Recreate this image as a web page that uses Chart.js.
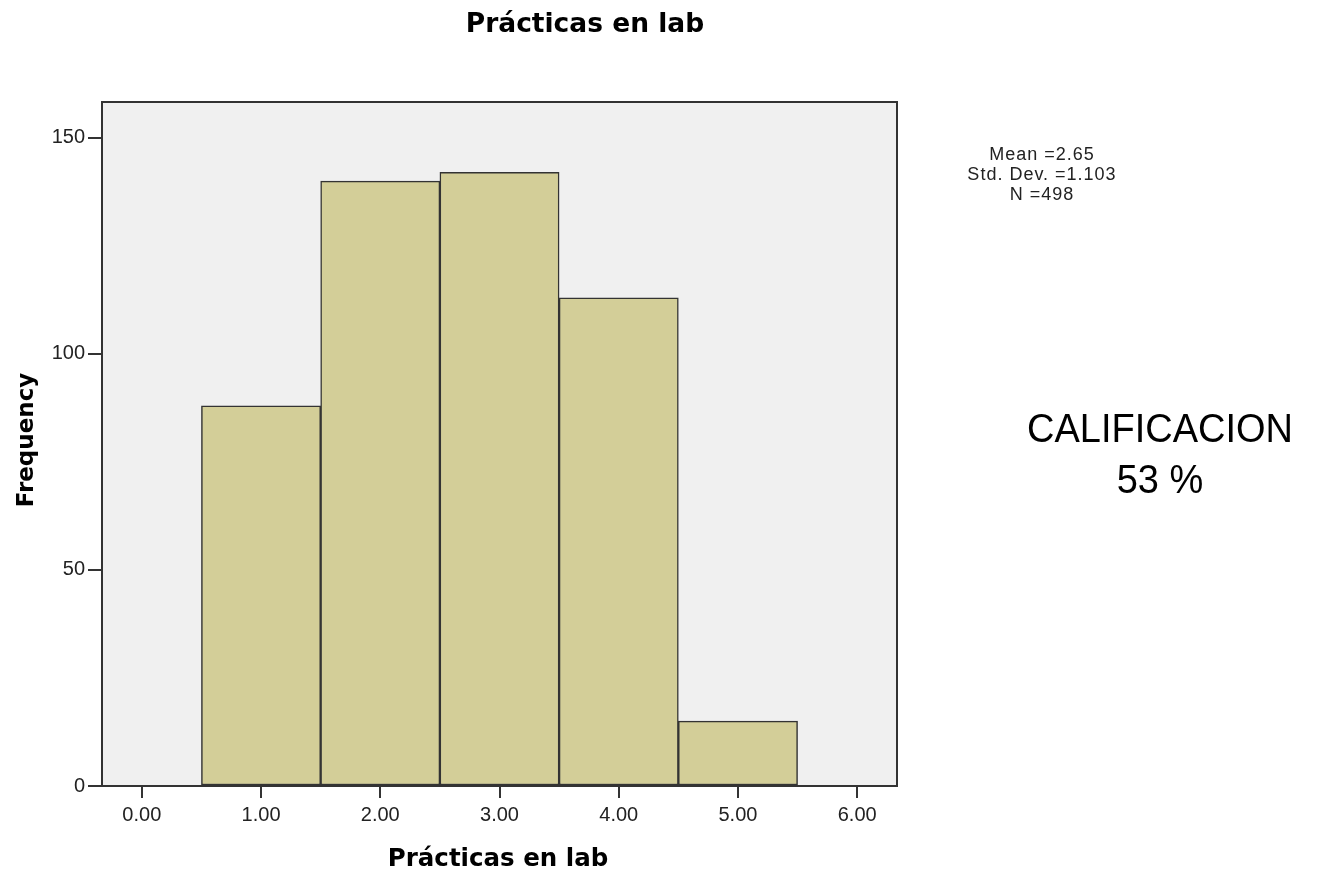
<!DOCTYPE html>
<html>
<head>
<meta charset="utf-8">
<script src="https://cdn.jsdelivr.net/npm/chart.js@4.4.1/dist/chart.umd.min.js"></script>
<style>
  html, body { margin: 0; padding: 0; background: #ffffff; }
  #wrap { width: 1333px; height: 877px; position: relative; }
</style>
</head>
<body>
<div id="wrap"><canvas id="histChart" width="1333" height="877"></canvas></div>
<script>
// Histogram data - Prácticas en lab
const binCenters = [1, 2, 3, 4, 5];
const frequencies = [88, 140, 142, 113, 15];
const xTickValues = [0, 1, 2, 3, 4, 5, 6];
const yTickValues = [0, 50, 100, 150];
const statLines = ['Mean =2.65', 'Std. Dev. =1.103', 'N =498'];
const noteLines = ['CALIFICACION', '53 %'];
const chartTitle = 'Prácticas en lab';
const xTitle = 'Prácticas en lab';
const yTitle = 'Frequency';

const FONT = '"Liberation Sans", Arial, sans-serif';
const BOLD_FONT = '"DejaVu Sans", Verdana, sans-serif';

// background + frame + all the free text
const spssDecor = {
    id: 'spssDecor',
    beforeDraw(chart) {
        const { ctx, chartArea: a } = chart;
        ctx.save();
        ctx.fillStyle = '#f0f0f0';
        ctx.fillRect(a.left, a.top, a.right - a.left, a.bottom - a.top);
        ctx.restore();
    },
    afterDraw(chart) {
        const { ctx, chartArea: a } = chart;
        ctx.save();
        ctx.strokeStyle = '#333333';
        ctx.lineWidth = 2;
        ctx.strokeRect(a.left, a.top, a.right - a.left, a.bottom - a.top);

        ctx.fillStyle = '#000000';
        ctx.textAlign = 'center';
        ctx.textBaseline = 'middle';

        ctx.font = 'bold 26.5px ' + BOLD_FONT;
        ctx.fillText(chartTitle, 585, 25);

        ctx.font = 'bold 24.5px ' + BOLD_FONT;
        ctx.fillText(xTitle, 498, 860);

        ctx.save();
        ctx.translate(27, 440);
        ctx.rotate(-Math.PI / 2);
        ctx.font = 'bold 23px ' + BOLD_FONT;
        ctx.fillText(yTitle, 0, 0);
        ctx.restore();

        ctx.font = '18px ' + FONT;
        ctx.letterSpacing = '1px';
        ctx.fillStyle = '#222222';
        statLines.forEach((t, i) => ctx.fillText(t, 1042, 155 + i * 20));
        ctx.letterSpacing = '0px';

        ctx.font = '38px ' + FONT;
        ctx.fillStyle = '#000000';
        noteLines.forEach((t, i) => {
            ctx.save();
            ctx.translate(1160, [431, 482][i]);
            ctx.scale(1, 1.08);
            ctx.fillText(t, 0, 0);
            ctx.restore();
        });
        ctx.restore();
    }
};

new Chart(document.getElementById('histChart'), {
    type: 'bar',
    data: {
        datasets: [{
            label: 'Frequency',
            data: binCenters.map((x, i) => ({ x: x, y: frequencies[i] })),
            backgroundColor: '#d3ce98',
            borderColor: '#333333',
            borderWidth: 1.5,
            borderSkipped: false,
            barPercentage: 1.0,
            categoryPercentage: 1.0
        }]
    },
    options: {
        responsive: false,
        animation: false,
        layout: { padding: { top: 102, right: 436, left: 0, bottom: 0 } },
        plugins: {
            legend: { display: false },
            tooltip: { enabled: false }
        },
        scales: {
            x: {
                type: 'linear',
                offset: false,
                min: -0.334,
                max: 6.334,
                afterBuildTicks: scale => { scale.ticks = xTickValues.map(v => ({ value: v })); },
                afterFit: scale => { scale.height = 91; },
                grid: { offset: false, drawOnChartArea: false, tickLength: 12, color: '#333333', lineWidth: 2 },
                border: { display: false },
                ticks: {
                    color: '#222222',
                    font: { family: FONT, size: 20 },
                    padding: 5,
                    maxRotation: 0,
                    callback: v => Number(v).toFixed(2)
                }
            },
            y: {
                min: 0,
                max: 158.3,
                afterBuildTicks: scale => { scale.ticks = yTickValues.map(v => ({ value: v })); },
                afterFit: scale => { scale.width = 102; },
                grid: { drawOnChartArea: false, tickLength: 14, color: '#333333', lineWidth: 2 },
                border: { display: false },
                ticks: {
                    color: '#222222',
                    font: { family: FONT, size: 20 },
                    padding: 3
                }
            }
        }
    },
    plugins: [spssDecor]
});
</script>
</body>
</html>
